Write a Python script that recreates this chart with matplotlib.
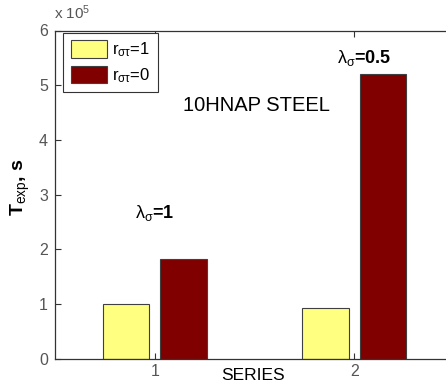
import matplotlib
matplotlib.use("Agg")
import matplotlib.pyplot as plt
from matplotlib.patches import Patch
import numpy as np

plt.rcParams['font.family'] = ['Liberation Sans', 'DejaVu Sans']
plt.rcParams['mathtext.fontset'] = 'custom'
plt.rcParams['mathtext.rm'] = 'Liberation Sans'
plt.rcParams['mathtext.it'] = 'Liberation Sans'
plt.rcParams['mathtext.bf'] = 'Liberation Sans:bold'

# Data
series = [1, 2]
t_r1 = [1.00e5, 0.92e5]    # r_sigma_tau = 1
t_r0 = [1.82e5, 5.20e5]    # r_sigma_tau = 0
lambda_labels = [r"$\lambda_\sigma$=1", r"$\lambda_\sigma$=0.5"]
legend_labels = [r"r$_{\sigma\tau}$=1", r"r$_{\sigma\tau}$=0"]

yellow = "#FFFF80"
darkred = "#800000"
edge = "#404040"

fig = plt.figure(figsize=(4.46, 3.85), dpi=100)
W, H = 446, 385
left, right, top, bottom = 55, 454, 30.5, 358.7
ax = fig.add_axes([left / W, 1 - bottom / H, (right - left) / W, (bottom - top) / H])

x = np.array(series, dtype=float)
bw = 0.233
off = 0.143
ax.bar(x - off, t_r1, bw, color=yellow, edgecolor=edge, linewidth=0.8)
ax.bar(x + off, t_r0, bw, color=darkred, edgecolor=edge, linewidth=0.8)

ax.set_xlim(0.5, 2.5)
ax.set_ylim(0, 6e5)
ax.set_xticks(series)
ax.set_xticklabels([str(s) for s in series])
ax.set_yticks(np.arange(0, 7) * 1e5)
ax.set_yticklabels([str(i) for i in range(7)])
ax.tick_params(direction='in', length=4, width=0.8, labelsize=11.5,
               colors='#333333', labelcolor='#555555', top=True, right=False)
ax.tick_params(axis='x', pad=4)
ax.tick_params(axis='y', pad=5)
for s in ['left', 'bottom', 'top']:
    ax.spines[s].set_color('#333333')
    ax.spines[s].set_linewidth(0.9)
ax.spines['right'].set_visible(False)

fig.text(54 / W, 1 - 13 / H, r"x 10$^5$", fontsize=11, color='#555555',
         ha='left', va='center')

fig.text(253 / W, 1 - 375 / H, "SERIES", fontsize=12.5, ha='center', va='center')
fig.text(20 / W, 1 - 187 / H, r"T$_{\rm exp}$, s", fontsize=14, fontweight='bold',
         rotation=90, ha='center', va='center')

# Annotations above the r=0 bars
ax.text(1.0, 2.57e5, lambda_labels[0], fontsize=13,
        fontweight='bold', ha='center', va='baseline')
ax.text(2.05, 5.40e5, lambda_labels[1], fontsize=13,
        fontweight='bold', ha='center', va='baseline')
ax.text(1.51, 4.62e5, "10HNAP STEEL", fontsize=14.5, ha='center', va='center')

handles = [Patch(facecolor=yellow, edgecolor=edge, linewidth=0.8),
           Patch(facecolor=darkred, edgecolor=edge, linewidth=0.8)]
leg = ax.legend(handles, legend_labels, loc='upper left',
                bbox_to_anchor=(8 / (right - left), 1 - 2.5 / (bottom - top)),
                fontsize=12, handlelength=2.2, handleheight=1.2,
                handletextpad=0.3, borderpad=0.45, labelspacing=0.4,
                fancybox=False, framealpha=1, edgecolor='#333333',
                borderaxespad=0)
leg.get_frame().set_linewidth(0.8)

fig.savefig("out.png", dpi=100)
